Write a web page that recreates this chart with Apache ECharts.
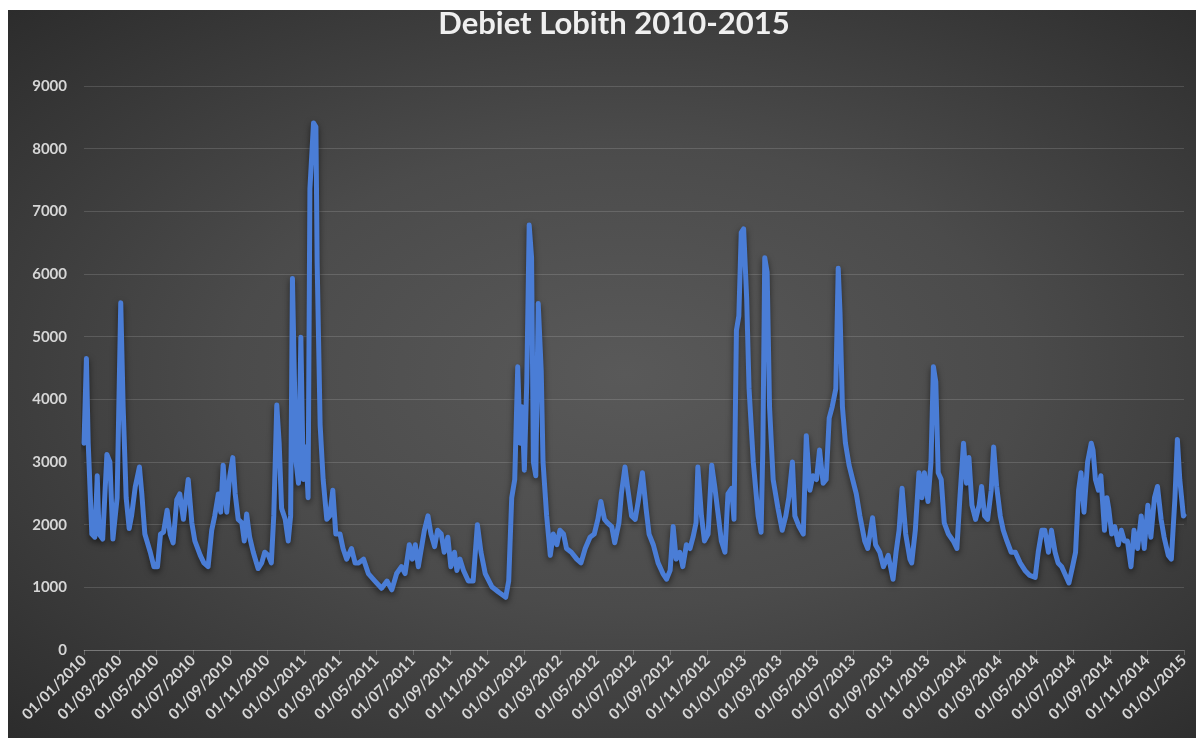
<!DOCTYPE html>
<html lang="nl">
<head>
    <meta charset="UTF-8">
    <title>Debiet Lobith 2010-2015</title>
    <script src="https://cdn.jsdelivr.net/npm/echarts@6/dist/echarts.min.js"></script>
    <style type="text/css">
        html, body {
            margin: 0;
            padding: 0;
            background: #ffffff;
        }

        #chart-bg {
            position: absolute;
            left: 8px;
            top: 10px;
            width: 1188px;
            height: 728px;
            background: radial-gradient(ellipse at 52% 50%, #595959 0%, #4b4b4b 45%, #2c2c2c 100%);
        }

        #debiet-chart {
            position: absolute;
            left: 0;
            top: 0;
            width: 1200px;
            height: 738px;
        }
    </style>
</head>
<body>
<div id="chart-bg"></div>
<div id="debiet-chart"></div>
<script type="text/javascript">
    // afvoer (m3/s) per datum
    const flow2010 = [
        ['2010-01-01', 3300], ['2010-01-05', 4650], ['2010-01-08', 3300], ['2010-01-14', 1850], ['2010-01-19', 1800],
        ['2010-01-23', 2780], ['2010-01-26', 1850], ['2010-02-01', 1770], ['2010-02-08', 3120], ['2010-02-13', 3000],
        ['2010-02-18', 1770], ['2010-02-21', 1740], ['2010-02-25', 2430], ['2010-03-03', 5540], ['2010-03-07', 3880],
        ['2010-03-12', 2430], ['2010-03-17', 1940], ['2010-03-21', 2140], ['2010-03-27', 2600], ['2010-04-03', 2920],
        ['2010-04-07', 2490], ['2010-04-12', 1850], ['2010-04-21', 1560], ['2010-04-27', 1330], ['2010-05-03', 1330],
        ['2010-05-08', 1850], ['2010-05-13', 1880], ['2010-05-19', 2230], ['2010-05-24', 1850], ['2010-05-29', 1710],
        ['2010-06-04', 2400], ['2010-06-09', 2490], ['2010-06-15', 2085], ['2010-06-23', 2720], ['2010-06-29', 2030],
        ['2010-07-04', 1740], ['2010-07-13', 1510], ['2010-07-19', 1390], ['2010-07-26', 1330], ['2010-08-01', 1910],
        ['2010-08-06', 2140], ['2010-08-12', 2490], ['2010-08-16', 2200], ['2010-08-20', 2950], ['2010-08-26', 2200],
        ['2010-08-31', 2780], ['2010-09-05', 3070], ['2010-09-09', 2490], ['2010-09-14', 2085], ['2010-09-20', 2030],
        ['2010-09-24', 1740], ['2010-09-28', 2170], ['2010-10-03', 1800], ['2010-10-09', 1560], ['2010-10-17', 1300],
        ['2010-10-23', 1390], ['2010-10-28', 1560], ['2010-11-03', 1510], ['2010-11-08', 1390], ['2010-11-12', 2140],
        ['2010-11-17', 3910], ['2010-11-21', 3300], ['2010-11-25', 2260], ['2010-12-01', 2085], ['2010-12-06', 1740],
        ['2010-12-10', 2140], ['2010-12-13', 5930], ['2010-12-19', 3000], ['2010-12-23', 2660], ['2010-12-27', 4990],
        ['2010-12-31', 2720]
    ];
    const flow2011 = [
        ['2011-01-04', 3240], ['2011-01-08', 2430], ['2011-01-11', 7360], ['2011-01-17', 8410], ['2011-01-21', 8350],
        ['2011-01-23', 6200], ['2011-01-28', 3590], ['2011-02-02', 2720], ['2011-02-08', 2085], ['2011-02-13', 2140],
        ['2011-02-18', 2550], ['2011-02-23', 1850], ['2011-03-02', 1850], ['2011-03-07', 1620], ['2011-03-13', 1450],
        ['2011-03-21', 1620], ['2011-03-27', 1390], ['2011-04-02', 1390], ['2011-04-10', 1450], ['2011-04-18', 1220],
        ['2011-04-29', 1100], ['2011-05-10', 985], ['2011-05-19', 1100], ['2011-05-27', 960], ['2011-06-04', 1220],
        ['2011-06-12', 1330], ['2011-06-18', 1220], ['2011-06-25', 1680], ['2011-06-30', 1450], ['2011-07-05', 1680],
        ['2011-07-10', 1330], ['2011-07-16', 1680], ['2011-07-20', 1910], ['2011-07-26', 2140], ['2011-07-31', 1850],
        ['2011-08-06', 1650], ['2011-08-11', 1910], ['2011-08-17', 1850], ['2011-08-22', 1560], ['2011-08-28', 1800],
        ['2011-09-02', 1330], ['2011-09-08', 1560], ['2011-09-12', 1270], ['2011-09-17', 1450], ['2011-09-23', 1270],
        ['2011-10-01', 1100], ['2011-10-09', 1100], ['2011-10-16', 2000], ['2011-10-22', 1560], ['2011-10-29', 1220],
        ['2011-11-09', 1010], ['2011-11-20', 925], ['2011-12-02', 840], ['2011-12-07', 1100], ['2011-12-12', 2430],
        ['2011-12-17', 2720], ['2011-12-22', 4520], ['2011-12-26', 3300], ['2011-12-29', 3880]
    ];
    const flow2012 = [
        ['2012-01-02', 2870], ['2012-01-06', 4280], ['2012-01-10', 6780], ['2012-01-14', 6260], ['2012-01-17', 3000],
        ['2012-01-21', 2780], ['2012-01-25', 5530], ['2012-01-30', 4460], ['2012-02-02', 3000], ['2012-02-08', 2140],
        ['2012-02-14', 1510], ['2012-02-19', 1850], ['2012-02-25', 1680], ['2012-03-01', 1910], ['2012-03-07', 1850],
        ['2012-03-12', 1620], ['2012-03-20', 1560], ['2012-03-29', 1450], ['2012-04-05', 1390], ['2012-04-12', 1620],
        ['2012-04-20', 1800], ['2012-04-27', 1850], ['2012-05-03', 2085], ['2012-05-08', 2370], ['2012-05-14', 2085],
        ['2012-05-19', 2030], ['2012-05-26', 1970], ['2012-05-31', 1710], ['2012-06-07', 2030], ['2012-06-11', 2490],
        ['2012-06-17', 2920], ['2012-06-22', 2550], ['2012-06-28', 2140], ['2012-07-04', 2085], ['2012-07-09', 2370],
        ['2012-07-16', 2830], ['2012-07-22', 2260], ['2012-07-27', 1850], ['2012-08-03', 1680], ['2012-08-11', 1390],
        ['2012-08-19', 1220], ['2012-08-25', 1130], ['2012-08-31', 1270], ['2012-09-05', 1970], ['2012-09-10', 1450],
        ['2012-09-16', 1560], ['2012-09-21', 1330], ['2012-09-27', 1680], ['2012-10-03', 1620], ['2012-10-08', 1800],
        ['2012-10-13', 2030], ['2012-10-16', 2920], ['2012-10-22', 2140], ['2012-10-27', 1740], ['2012-11-02', 1850],
        ['2012-11-08', 2950], ['2012-11-13', 2610], ['2012-11-19', 2140], ['2012-11-24', 1740], ['2012-11-30', 1560],
        ['2012-12-05', 2490], ['2012-12-11', 2580], ['2012-12-15', 2085], ['2012-12-19', 5100], ['2012-12-23', 5330],
        ['2012-12-27', 6660], ['2012-12-31', 6720]
    ];
    const flow2013 = [
        ['2013-01-05', 5620], ['2013-01-09', 4170], ['2013-01-16', 3000], ['2013-01-24', 2140], ['2013-01-29', 1880],
        ['2013-02-01', 3300], ['2013-02-04', 6260], ['2013-02-08', 6030], ['2013-02-12', 3880], ['2013-02-18', 2720],
        ['2013-02-26', 2260], ['2013-03-05', 1910], ['2013-03-11', 2140], ['2013-03-16', 2430], ['2013-03-22', 3000],
        ['2013-03-26', 2140], ['2013-04-02', 1970], ['2013-04-09', 1850], ['2013-04-14', 3420], ['2013-04-20', 2550],
        ['2013-04-25', 2780], ['2013-05-01', 2720], ['2013-05-06', 3190], ['2013-05-12', 2660], ['2013-05-17', 2720],
        ['2013-05-22', 3700], ['2013-05-27', 3880], ['2013-06-02', 4170], ['2013-06-06', 6090], ['2013-06-09', 5390],
        ['2013-06-13', 3880], ['2013-06-18', 3300], ['2013-06-24', 2950], ['2013-06-30', 2720], ['2013-07-06', 2490],
        ['2013-07-12', 2140], ['2013-07-20', 1740], ['2013-07-25', 1620], ['2013-08-02', 2110], ['2013-08-07', 1680],
        ['2013-08-14', 1560], ['2013-08-20', 1330], ['2013-08-28', 1510], ['2013-09-05', 1130], ['2013-09-10', 1560],
        ['2013-09-15', 1910], ['2013-09-20', 2580], ['2013-09-26', 1850], ['2013-10-03', 1450], ['2013-10-06', 1390],
        ['2013-10-12', 1910], ['2013-10-18', 2830], ['2013-10-23', 2430], ['2013-10-27', 2830], ['2013-11-02', 2370],
        ['2013-11-07', 3000], ['2013-11-11', 4520], ['2013-11-15', 4280], ['2013-11-19', 2830], ['2013-11-24', 2720],
        ['2013-11-29', 2030], ['2013-12-06', 1850], ['2013-12-14', 1740], ['2013-12-20', 1620], ['2013-12-25', 2430],
        ['2013-12-31', 3300]
    ];
    const flow2014 = [
        ['2014-01-05', 2660], ['2014-01-09', 3070], ['2014-01-14', 2310], ['2014-01-20', 2085], ['2014-01-26', 2310],
        ['2014-01-30', 2610], ['2014-02-04', 2140], ['2014-02-09', 2085], ['2014-02-15', 2550], ['2014-02-19', 3240],
        ['2014-02-24', 2610], ['2014-03-02', 2140], ['2014-03-07', 1910], ['2014-03-13', 1740], ['2014-03-20', 1560],
        ['2014-03-27', 1560], ['2014-04-04', 1390], ['2014-04-12', 1270], ['2014-04-20', 1190], ['2014-04-29', 1160],
        ['2014-05-04', 1560], ['2014-05-10', 1910], ['2014-05-15', 1910], ['2014-05-21', 1560], ['2014-05-26', 1910],
        ['2014-06-01', 1560], ['2014-06-06', 1390], ['2014-06-12', 1330], ['2014-06-17', 1220], ['2014-06-24', 1070],
        ['2014-06-30', 1330], ['2014-07-05', 1560], ['2014-07-10', 2550], ['2014-07-14', 2830], ['2014-07-19', 2200],
        ['2014-07-25', 3000], ['2014-07-31', 3300], ['2014-08-03', 3190], ['2014-08-07', 2720], ['2014-08-12', 2550],
        ['2014-08-16', 2780], ['2014-08-22', 1910], ['2014-08-26', 2430], ['2014-08-29', 2260], ['2014-09-03', 1850],
        ['2014-09-08', 1970], ['2014-09-14', 1680], ['2014-09-19', 1910], ['2014-09-24', 1740], ['2014-09-29', 1740],
        ['2014-10-05', 1330], ['2014-10-10', 1910], ['2014-10-16', 1620], ['2014-10-22', 2140], ['2014-10-27', 1620],
        ['2014-11-02', 2310], ['2014-11-07', 1800], ['2014-11-13', 2430], ['2014-11-18', 2610], ['2014-11-24', 2085],
        ['2014-11-29', 1800], ['2014-12-06', 1510], ['2014-12-11', 1450], ['2014-12-17', 2430], ['2014-12-21', 3360],
        ['2014-12-25', 2720], ['2014-12-31', 2140], ['2015-01-01', 2150]
    ];

    // alle dagen van 01/01/2010 t/m 01/01/2015 als categorieën
    const dayCategories = [];
    for (let t = Date.UTC(2010, 0, 1); t <= Date.UTC(2015, 0, 1); t += 86400000) {
        dayCategories.push(new Date(t).toISOString().slice(0, 10));
    }

    // labels op de eerste dag van elke oneven maand
    function isTickDay(index, value) {
        return value.slice(8) === '01' && parseInt(value.slice(5, 7), 10) % 2 === 1;
    }

    const chart = echarts.init(document.getElementById('debiet-chart'));
    chart.setOption({
        animation: false,
        title: {
            text: 'Debiet Lobith 2010-2015',
            left: 609,
            textAlign: 'center',
            top: 3,
            textStyle: {
                color: '#efefef',
                fontFamily: 'Lato',
                fontWeight: 'bold',
                fontSize: 31
            }
        },
        grid: {
            left: 84,
            right: 16,
            top: 86,
            bottom: 88
        },
        xAxis: {
            type: 'category',
            data: dayCategories,
            boundaryGap: false,
            axisLine: {lineStyle: {color: 'rgba(255,255,255,0.22)', width: 1}},
            axisTick: {
                interval: isTickDay,
                length: 5,
                lineStyle: {color: 'rgba(255,255,255,0.22)'}
            },
            axisLabel: {
                interval: isTickDay,
                rotate: 45,
                margin: 8,
                color: '#d6d6d6',
                fontFamily: 'Lato',
                fontWeight: 'bold',
                fontSize: 15,
                formatter: v => v.slice(8) + '/' + v.slice(5, 7) + '/' + v.slice(0, 4)
            },
            splitLine: {show: false}
        },
        yAxis: {
            type: 'value',
            min: 0,
            max: 9000,
            interval: 1000,
            axisLine: {show: false},
            axisTick: {show: false},
            axisLabel: {
                margin: 17,
                color: '#d6d6d6',
                fontFamily: 'Lato',
                fontWeight: 'bold',
                fontSize: 15,
                formatter: v => String(v)
            },
            splitLine: {lineStyle: {color: 'rgba(255,255,255,0.14)', width: 1}}
        },
        series: [{
            type: 'line',
            data: [].concat(flow2010, flow2011, flow2012, flow2013, flow2014),
            showSymbol: false,
            smooth: false,
            lineStyle: {
                color: '#4a7dd6',
                width: 5,
                cap: 'round',
                join: 'round',
                shadowColor: 'rgba(0,0,0,0.55)',
                shadowBlur: 6,
                shadowOffsetY: 3
            },
            itemStyle: {color: '#4a7dd6'}
        }]
    });
</script>
</body>
</html>
